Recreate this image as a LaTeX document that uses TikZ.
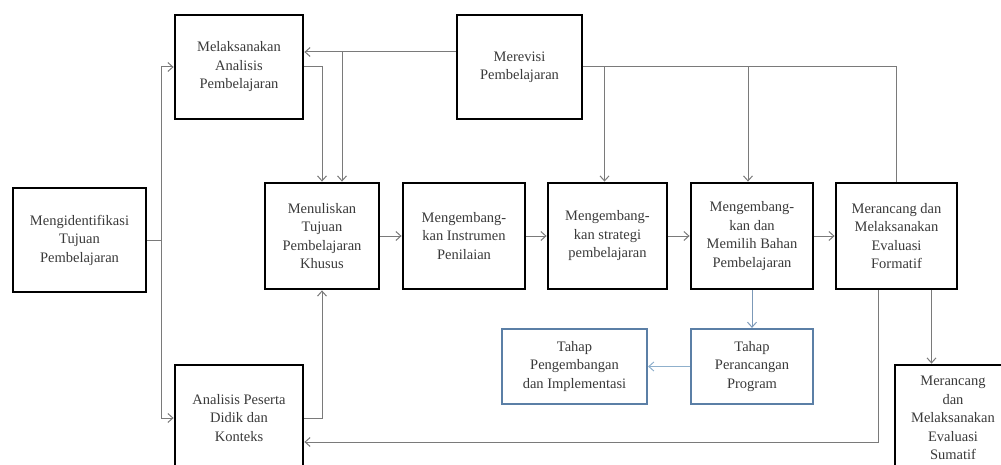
\documentclass[tikz,border=0pt]{standalone}
\usepackage{fontspec}
\setmainfont{Liberation Serif}
\usepackage{xcolor}
\usepackage{tikz}
\usetikzlibrary{positioning,arrows.meta}
\definecolor{txtgray}{HTML}{3A3A3A}
\definecolor{linegray}{HTML}{7A7A7A}
\definecolor{boxblue}{HTML}{5B7FA6}
\definecolor{arrblue}{HTML}{8FB0CC}

\begin{document}
\begin{tikzpicture}[x=1pt,y=-1pt,
    box/.style={draw=black,line width=2.8pt,fill=white,align=center,text=txtgray,inner sep=2pt,
        font=\fontsize{14.5}{18.5}\selectfont},
    bluebox/.style={box,draw=boxblue,line width=2.2pt},
    flow/.style={draw=linegray,line width=1pt,-{Straight Barb[length=5pt,width=9pt]}},
    link/.style={draw=linegray,line width=1pt}]
    \useasboundingbox (0,0) rectangle (1001,465);
    \node[box,minimum width=133pt,minimum height=104pt] (ident) at (79.5,240) {Mengidentifikasi\\Tujuan\\Pembelajaran};
    \node[box,minimum width=128pt,minimum height=104pt] (analisis) at (239,67) {Melaksanakan\\Analisis\\Pembelajaran};
    \node[box,minimum width=125pt,minimum height=104pt] (revisi) at (519.5,67) {Merevisi\\Pembelajaran};
    \node[box,minimum width=114pt,minimum height=106pt] (tujuan) at (322,236) {Menuliskan\\Tujuan\\Pembelajaran\\Khusus};
    \node[box,minimum width=122pt,minimum height=106pt] (instrumen) at (464,236) {Mengembang-\\kan Instrumen\\Penilaian};
    \node[box,minimum width=119pt,minimum height=106pt] (strategi) at (607.5,236) {Mengembang-\\kan strategi\\pembelajaran};
    \node[box,minimum width=122pt,minimum height=106pt] (bahan) at (752,236) {Mengembang-\\kan dan\\Memilih Bahan\\Pembelajaran};
    \node[box,minimum width=121pt,minimum height=106pt] (formatif) at (896.5,236) {Merancang dan\\Melaksanakan\\Evaluasi\\Formatif};
    \node[box,minimum width=128pt,minimum height=106pt] (peserta) at (239,418) {Analisis Peserta\\Didik dan\\Konteks};
    \node[box,minimum width=116pt,minimum height=106pt] (sumatif) at (953,418) {Merancang\\dan\\Melaksanakan\\Evaluasi\\Sumatif};
    \node[bluebox,minimum width=145pt,minimum height=75pt] (kembang) at (574.5,366.5) {Tahap\\Pengembangan\\dan Implementasi};
    \node[bluebox,minimum width=122pt,minimum height=75pt] (rancang) at (752,366.5) {Tahap\\Perancangan\\Program};

    \draw[link] (ident.east) -- ++(14,0) coordinate (split);
    \draw[flow] (split) |- (analisis.west);
    \draw[flow] (split) |- (peserta.west);
    \draw[flow] (analisis.east) -| (tujuan.north);
    \draw[flow] ([yshift=15pt]revisi.west) -- ([yshift=15pt]analisis.east);
    \coordinate (rb) at (342,52);
    \draw[flow] (rb) -- (rb |- tujuan.north);
    \draw[link] (revisi.east) -| (formatif.north);
    \draw[flow] ([xshift=-3pt]strategi.north |- revisi.east) -- ([xshift=-3pt]strategi.north);
    \draw[flow] ([xshift=-4pt]bahan.north |- revisi.east) -- ([xshift=-4pt]bahan.north);
    \draw[flow] (tujuan) -- (instrumen);
    \draw[flow] (instrumen) -- (strategi);
    \draw[flow] (strategi) -- (bahan);
    \draw[flow] (bahan) -- (formatif);
    \draw[flow] (peserta.east) -| (tujuan.south);
    \draw[flow] ([xshift=-18pt]formatif.south) |- ([yshift=-24pt]peserta.east);
    \draw[flow] ([xshift=35pt]formatif.south) -- ([xshift=35pt]formatif.south |- sumatif.north);
    \draw[flow,draw=boxblue!80] (bahan.south) -- (rancang.north);
    \draw[flow,draw=arrblue] (rancang.west) -- (kembang.east);
\end{tikzpicture}
\end{document}
